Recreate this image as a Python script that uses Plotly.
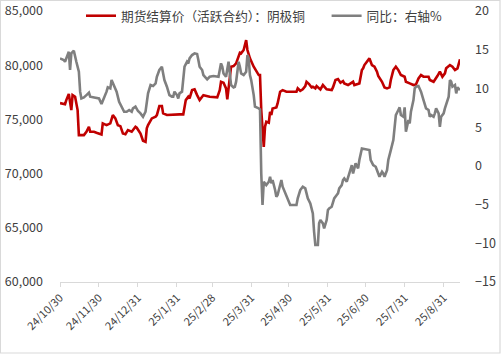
import plotly.graph_objects as go

# 期货结算价（活跃合约）：阴极铜
price_dates = [
    "2024-10-30", "2024-11-03", "2024-11-04", "2024-11-06", "2024-11-08", "2024-11-09", "2024-11-11",
    "2024-11-13", "2024-11-14", "2024-11-18", "2024-11-20", "2024-11-22", "2024-11-23", "2024-11-26",
    "2024-11-28", "2024-12-01", "2024-12-02", "2024-12-03", "2024-12-06", "2024-12-09", "2024-12-11",
    "2024-12-13", "2024-12-15", "2024-12-17", "2024-12-19", "2024-12-21", "2024-12-23", "2024-12-26",
    "2024-12-29", "2024-12-30", "2025-01-02", "2025-01-04", "2025-01-06", "2025-01-07", "2025-01-08",
    "2025-01-11", "2025-01-14", "2025-01-15", "2025-01-17", "2025-01-19", "2025-01-20", "2025-01-23",
    "2025-01-28", "2025-02-02", "2025-02-05", "2025-02-07", "2025-02-09", "2025-02-10", "2025-02-12",
    "2025-02-14", "2025-02-16", "2025-02-18", "2025-02-20", "2025-02-21", "2025-02-26", "2025-03-04",
    "2025-03-06", "2025-03-07", "2025-03-09", "2025-03-11", "2025-03-12", "2025-03-14", "2025-03-15",
    "2025-03-17", "2025-03-19", "2025-03-22", "2025-03-23", "2025-03-25", "2025-03-27", "2025-03-28",
    "2025-03-29", "2025-03-30", "2025-04-02", "2025-04-04", "2025-04-06", "2025-04-07", "2025-04-08",
    "2025-04-10", "2025-04-11", "2025-04-12", "2025-04-14", "2025-04-15", "2025-04-16", "2025-04-17",
    "2025-04-20", "2025-04-21", "2025-04-23", "2025-04-25", "2025-04-28", "2025-05-01", "2025-05-06",
    "2025-05-07", "2025-05-09", "2025-05-11", "2025-05-13", "2025-05-14", "2025-05-16", "2025-05-18",
    "2025-05-19", "2025-05-21", "2025-05-22", "2025-05-25", "2025-05-27", "2025-05-30", "2025-06-03",
    "2025-06-04", "2025-06-06", "2025-06-08", "2025-06-10", "2025-06-12", "2025-06-13", "2025-06-16",
    "2025-06-17", "2025-06-20", "2025-06-21", "2025-06-25", "2025-06-27", "2025-06-28", "2025-06-29",
    "2025-07-01", "2025-07-03", "2025-07-04", "2025-07-05", "2025-07-07", "2025-07-09", "2025-07-10",
    "2025-07-12", "2025-07-13", "2025-07-15", "2025-07-17", "2025-07-19", "2025-07-20", "2025-07-22",
    "2025-07-24", "2025-07-26", "2025-07-28", "2025-07-31", "2025-08-01", "2025-08-04", "2025-08-07",
    "2025-08-09", "2025-08-11", "2025-08-13", "2025-08-15", "2025-08-19", "2025-08-20", "2025-08-23",
    "2025-08-25", "2025-08-26", "2025-08-28", "2025-08-29", "2025-08-30", "2025-09-01", "2025-09-02",
    "2025-09-05", "2025-09-07", "2025-09-09", "2025-09-11", "2025-09-13",
]
price_values = [
    76500, 76400, 76780, 77340, 75860, 77240, 77090,
    75860, 73550, 73550, 73860, 74320, 73860, 73860,
    73770, 73700, 73610, 74630, 74470, 74630, 75400,
    75090, 74470, 74380, 73700, 73640, 74010, 73860,
    74320, 74230, 73700, 73030, 72930, 74170, 74470,
    75090, 75240, 75400, 76230, 76230, 75550, 75400,
    75460, 75460, 75460, 76780, 77090, 76930, 77700,
    77770, 77240, 76780, 77090, 77240, 77090, 77030,
    77700, 78470, 78380, 77860, 76840, 78630, 79860,
    79920, 80170, 81150, 81090, 81400, 82320, 81400,
    80900, 80630, 79860, 79400, 79090, 79090, 75860,
    72470, 74320, 74780, 74690, 75700, 75400, 76010,
    76100, 76470, 77550, 77700, 77550, 77550, 77550,
    77860, 77640, 77770, 78070, 78470, 78260, 77950,
    78010, 77860, 78070, 77770, 78170, 77770, 77700,
    77950, 78630, 78720, 78380, 78540, 78320, 78170,
    78230, 78470, 78170, 78320, 79550, 79710, 80010,
    80320, 80630, 80320, 80010, 79860, 79400, 79000,
    78630, 78470, 77950, 77860, 77950, 78630, 79550,
    79860, 79550, 79090, 78940, 78470, 78320, 78170,
    78230, 78780, 79090, 78940, 78940, 78630, 78470,
    78780, 79000, 79400, 79090, 78940, 79250, 79710,
    80010, 79860, 79550, 79710, 80540,
]

# 同比：右轴%
yoy_dates = [
    "2024-10-30", "2024-11-02", "2024-11-03", "2024-11-04", "2024-11-06", "2024-11-07", "2024-11-08",
    "2024-11-10", "2024-11-11", "2024-11-12", "2024-11-14", "2024-11-15", "2024-11-16", "2024-11-18",
    "2024-11-20", "2024-11-22", "2024-11-23", "2024-11-28", "2024-11-30", "2024-12-02", "2024-12-04",
    "2024-12-06", "2024-12-07", "2024-12-09", "2024-12-10", "2024-12-11", "2024-12-13", "2024-12-14",
    "2024-12-16", "2024-12-18", "2024-12-20", "2024-12-22", "2024-12-24", "2024-12-26", "2024-12-27",
    "2024-12-29", "2024-12-31", "2025-01-02", "2025-01-03", "2025-01-04", "2025-01-06", "2025-01-07",
    "2025-01-08", "2025-01-10", "2025-01-12", "2025-01-14", "2025-01-15", "2025-01-17", "2025-01-19",
    "2025-01-20", "2025-01-21", "2025-01-23", "2025-01-24", "2025-01-25", "2025-01-27", "2025-01-28",
    "2025-01-29", "2025-01-31", "2025-02-01", "2025-02-02", "2025-02-04", "2025-02-06", "2025-02-08",
    "2025-02-09", "2025-02-10", "2025-02-12", "2025-02-14", "2025-02-16", "2025-02-17", "2025-02-18",
    "2025-02-20", "2025-02-21", "2025-02-24", "2025-02-26", "2025-03-01", "2025-03-05", "2025-03-07",
    "2025-03-08", "2025-03-09", "2025-03-11", "2025-03-13", "2025-03-14", "2025-03-15", "2025-03-17",
    "2025-03-18", "2025-03-19", "2025-03-21", "2025-03-22", "2025-03-23", "2025-03-25", "2025-03-27",
    "2025-03-28", "2025-03-29", "2025-03-30", "2025-03-31", "2025-04-02", "2025-04-03", "2025-04-06",
    "2025-04-07", "2025-04-08", "2025-04-09", "2025-04-10", "2025-04-12", "2025-04-14", "2025-04-15",
    "2025-04-16", "2025-04-17", "2025-04-19", "2025-04-20", "2025-04-21", "2025-04-23", "2025-04-24",
    "2025-04-25", "2025-04-27", "2025-04-28", "2025-04-29", "2025-05-01", "2025-05-06", "2025-05-07",
    "2025-05-09", "2025-05-11", "2025-05-13", "2025-05-14", "2025-05-15", "2025-05-17", "2025-05-18",
    "2025-05-19", "2025-05-20", "2025-05-21", "2025-05-23", "2025-05-24", "2025-05-25", "2025-05-27",
    "2025-05-28", "2025-05-30", "2025-05-31", "2025-06-01", "2025-06-03", "2025-06-04", "2025-06-05",
    "2025-06-07", "2025-06-08", "2025-06-09", "2025-06-11", "2025-06-12", "2025-06-13", "2025-06-15",
    "2025-06-16", "2025-06-17", "2025-06-19", "2025-06-20", "2025-06-22", "2025-06-24", "2025-06-25",
    "2025-06-27", "2025-07-03", "2025-07-04", "2025-07-06", "2025-07-08", "2025-07-10", "2025-07-11",
    "2025-07-13", "2025-07-14", "2025-07-15", "2025-07-17", "2025-07-18", "2025-07-19", "2025-07-20",
    "2025-07-22", "2025-07-23", "2025-07-24", "2025-07-26", "2025-07-27", "2025-07-28", "2025-07-30",
    "2025-07-31", "2025-08-01", "2025-08-03", "2025-08-04", "2025-08-05", "2025-08-07", "2025-08-08",
    "2025-08-09", "2025-08-11", "2025-08-12", "2025-08-13", "2025-08-15", "2025-08-16", "2025-08-17",
    "2025-08-19", "2025-08-20", "2025-08-21", "2025-08-23", "2025-08-24", "2025-08-25", "2025-08-27",
    "2025-08-28", "2025-08-29", "2025-08-31", "2025-09-01", "2025-09-02", "2025-09-04", "2025-09-05",
    "2025-09-06", "2025-09-07", "2025-09-09", "2025-09-10", "2025-09-11", "2025-09-13",
]
yoy_values = [
    13.88, 13.67, 13.45, 13.88, 14.74, 12.38, 14.53,
    14.87, 14.31, 13.45, 12.16, 9.58, 8.71, 8.84,
    9.14, 9.45, 8.93, 8.71, 8.71, 7.98, 8.71,
    9.58, 10.14, 10.01, 11.08, 10.65, 10.01, 9.58,
    8.28, 7.64, 6.99, 6.99, 7.21, 6.99, 7.42,
    7.64, 7.08, 6.78, 6.56, 6.35, 6.99, 8.07,
    9.36, 10.44, 10.31, 10.65, 11.51, 12.38, 12.81,
    11.94, 11.08, 10.22, 9.58, 9.14, 8.93, 8.93,
    9.58, 9.14, 8.71, 9.36, 9.58, 12.81, 13.45,
    13.24, 13.88, 14.31, 14.53, 14.44, 13.67, 12.81,
    12.38, 11.73, 11.17, 11.51, 11.60, 11.51, 13.24,
    12.81, 11.94, 11.51, 13.45, 11.94, 10.44, 10.14,
    10.22, 10.87, 13.45, 12.81, 11.94, 11.73, 12.16,
    14.31, 13.88, 11.73, 11.08, 9.14, 7.64, 7.42,
    7.30, -1.00, -5.06, -2.05, -2.48, -2.05, -1.40,
    -2.26, -1.83, -3.12, -3.99, -3.77, -2.69, -1.83,
    -2.69, -3.55, -3.77, -4.20, -5.06, -5.06, -4.20,
    -3.12, -2.69, -2.91, -3.55, -4.20, -4.85, -5.71,
    -6.14, -8.51, -10.23, -10.23, -7.43, -7.00, -7.43,
    -8.08, -7.00, -5.71, -5.49, -5.28, -4.63, -4.20,
    -3.77, -3.55, -2.91, -2.48, -1.83, -1.62, -2.05,
    -1.40, -0.97, 0.10, -0.98, 0.32, -0.33, 0.75,
    2.25, 2.04, 0.75, 0.10, -0.12, -0.98, -1.41,
    -0.76, -0.98, -1.41, -0.55, 0.75, 1.61, 2.04,
    3.33, 5.48, 6.56, 7.21, 7.55, 6.56, 6.35,
    7.55, 4.41, 5.91, 5.48, 6.99, 8.50, 10.01,
    10.22, 10.31, 10.01, 9.58, 8.50, 7.85, 7.42,
    7.21, 6.35, 6.56, 6.35, 6.78, 7.42, 6.78,
    5.05, 6.35, 6.78, 7.42, 7.85, 8.93, 11.08,
    10.87, 10.22, 10.44, 9.36, 10.14, 9.79,
]

tick_dates = ["2024-10-30", "2024-11-30", "2024-12-31", "2025-01-31", "2025-02-28", "2025-03-31",
              "2025-04-30", "2025-05-31", "2025-06-30", "2025-07-31", "2025-08-31"]
tick_labels = ["24/10/30", "24/11/30", "24/12/31", "25/1/31", "25/2/28", "25/3/31",
               "25/4/30", "25/5/31", "25/6/30", "25/7/31", "25/8/31"]

FONT = "Noto Sans CJK SC"
TXT = "#404040"

fig = go.Figure()
fig.add_trace(go.Scatter(
    x=price_dates, y=price_values, mode="lines", name="期货结算价（活跃合约）：阴极铜",
    line=dict(color="#C00000", width=2.6), yaxis="y", legend="legend",
))
fig.add_trace(go.Scatter(
    x=yoy_dates, y=yoy_values, mode="lines", name="同比：右轴%",
    line=dict(color="#7F7F7F", width=2.6), yaxis="y2", legend="legend2",
))

legend_common = dict(
    orientation="h", xanchor="left", y=1.037, yanchor="top",
    font=dict(family=FONT, size=12.7, color=TXT),
    bgcolor="rgba(0,0,0,0)", borderwidth=0,
)

fig.update_layout(
    width=501, height=356,
    margin=dict(l=60, r=41, t=11, b=74, autoexpand=False),
    paper_bgcolor="white", plot_bgcolor="white",
    font=dict(family=FONT, size=12, color=TXT),
    showlegend=True,
    legend=dict(x=0.0525, **legend_common),
    legend2=dict(x=0.6665, **legend_common),
    xaxis=dict(
        type="date", range=["2024-10-30", "2025-09-13"], automargin=False,
        tickvals=tick_dates, ticktext=tick_labels, tickangle=-45,
        showgrid=False, zeroline=False,
        showline=True, linecolor="#D9D9D9", linewidth=1.3,
        ticks="outside", ticklen=4, tickcolor="#D9D9D9",
        tickfont=dict(family=FONT, size=11, color=TXT),
    ),
    yaxis=dict(
        range=[60000, 85000], dtick=5000, tickformat=",", automargin=False,
        showgrid=False, zeroline=False, showline=False, ticklabelstandoff=16,
        tickfont=dict(family=FONT, size=12.5, color=TXT),
    ),
    yaxis2=dict(
        range=[-15, 20], dtick=5, overlaying="y", side="right", automargin=False,
        showgrid=False, zeroline=False, showline=False, ticklabelstandoff=14,
        tickfont=dict(family=FONT, size=12.5, color=TXT),
    ),
    shapes=[dict(
        type="rect", xref="paper", yref="paper",
        x0=-0.149, x1=1.1, y0=-0.262, y1=1.039,
        line=dict(color="#D9D9D9", width=1.2), fillcolor="rgba(0,0,0,0)", layer="below",
    )],
)

fig.write_html(
    "out.html",
    config={"displayModeBar": False},
    post_script="document.body.style.margin='0';document.body.style.padding='0';",
)
